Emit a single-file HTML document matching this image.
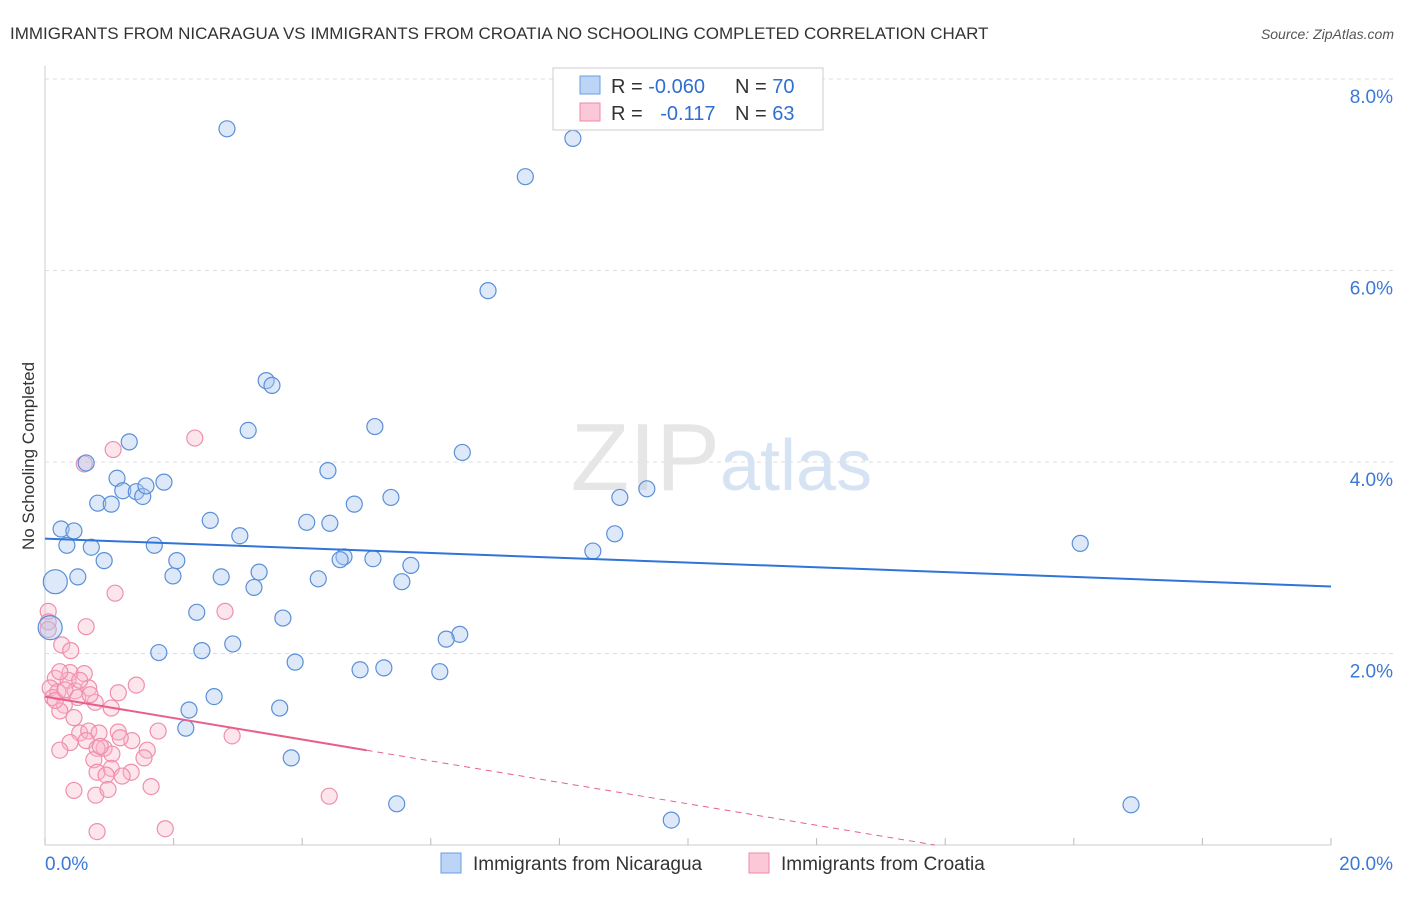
<!DOCTYPE html>
<html><head><meta charset="utf-8"><style>
body{margin:0;background:#fff;font-family:"Liberation Sans",sans-serif}
svg text{font-family:"Liberation Sans",sans-serif}
</style></head><body>
<svg width="1406" height="892">
<text x="10" y="39" font-size="17" fill="#333">IMMIGRANTS FROM NICARAGUA VS IMMIGRANTS FROM CROATIA NO SCHOOLING COMPLETED CORRELATION CHART</text>
<text x="1394" y="39" font-size="14" fill="#555" font-style="italic" text-anchor="end">Source: ZipAtlas.com</text>
<text x="34" y="456" font-size="17" fill="#333" transform="rotate(-90 34 456)" text-anchor="middle">No Schooling Completed</text>
<g id="grid"></g>
<text x="720" y="490" font-size="96" fill="#e6e6e6" text-anchor="end" font-family="Liberation Serif">ZIP</text>
<text x="720" y="490" font-size="72" fill="#d6e3f3">atlas</text>
<g id="marks"></g>
<g>
<rect x="553" y="68" width="270" height="62" fill="#fff" stroke="#ccc"/>
<rect x="580" y="76" width="20" height="18" fill="#bcd4f5" stroke="#6a9be0"/>
<rect x="580" y="103" width="20" height="18" fill="#fbc8d8" stroke="#ee8aa8"/>
<text x="611" y="93" font-size="20" fill="#333">R = <tspan fill="#2f6fd0">-0.060</tspan></text>
<text x="735" y="93" font-size="20" fill="#333">N = <tspan fill="#2f6fd0">70</tspan></text>
<text x="611" y="120" font-size="20" fill="#333">R =  <tspan fill="#2f6fd0" dx="12">-0.117</tspan></text>
<text x="735" y="120" font-size="20" fill="#333">N = <tspan fill="#2f6fd0">63</tspan></text>
</g>
<g>
<rect x="441" y="853" width="20" height="20" fill="#bcd4f5" stroke="#6a9be0"/>
<text x="473" y="870" font-size="19" fill="#333">Immigrants from Nicaragua</text>
<rect x="749" y="853" width="20" height="20" fill="#fbc8d8" stroke="#ee8aa8"/>
<text x="781" y="870" font-size="19" fill="#333">Immigrants from Croatia</text>
</g>
</svg>
<script>
const yTicks=[2,4,6,8];
const yTickLabels=["2.0%","4.0%","6.0%","8.0%"];
const xTickLabels=["0.0%","20.0%"];
const nicX=[(227),573,525,488,266,272,248,375,129,462,86,328,117,164,123,136,143,146,98,111,354,391,620,647,210,307,330,61,74,240,67,91,154,615,593,1080,344,340,373,104,177,411,259,221,173,78,55,318,402,254,197,283,50,460,446,233,159,202,295,360,384,440,214,189,280,186,291,397,1131,671].map(p=>+((p-45)/1286*20).toFixed(2));
const nicY=[129,138,177,291,381,385,430,427,442,452,463,471,478,482,491,492,496,486,503,504,504,497,497,489,520,522,523,529,531,536,545,547,545,534,551,543,557,560,559,561,561,565,572,577,576,577,582,579,582,587,612,618,628,634,639,644,653,651,662,670,668,672,697,710,708,728,758,804,805,820].map(p=>+((845-p)/95.75).toFixed(2));
const croX=[195,113,84,115,225,48,48,86,62,71,70,84,55,68,50,58,75,89,136,118,53,95,78,64,60,111,74,80,89,99,118,158,232,70,86,104,132,60,97,147,112,94,144,111,97,131,122,106,74,96,108,151,329,97,165,55,65,100,120,48,80,90,60].map(p=>+((p-45)/1286*20).toFixed(2));
const croY=[438,450,464,593,611,611,622,627,645,651,673,674,678,680,688,692,691,688,685,693,698,702,698,705,711,708,718,733,731,733,732,731,736,743,741,748,741,750,748,750,754,760,758,768,772,772,776,775,790,795,789,787,796,832,829,700,690,746,738,630,680,695,672].map(p=>+((845-p)/95.75).toFixed(2));
const nicTrend=[3.2,2.7];
const croTrend=[1.55,0.99];
const croTrendEnd=5;
const X=v=>45+v/20*1286, Y=v=>845-v*95.75;
const NS="http://www.w3.org/2000/svg";
function mk(t,a,p){const e=document.createElementNS(NS,t);for(const k in a)e.setAttribute(k,a[k]);p.appendChild(e);return e;}
const g=document.getElementById('grid'),m=document.getElementById('marks');
mk('line',{x1:45,y1:66,x2:45,y2:845,stroke:'#ccc'},g);
mk('line',{x1:45,y1:845,x2:1331,y2:845,stroke:'#ccc'},g);
for(let i=0;i<=10;i++){const l=mk('line',{x1:X(i*2),y1:845,x2:X(i*2),y2:838,stroke:'#bbb'},g);}
yTicks.forEach((v,i)=>{
 const l=mk('line',{x1:45,y1:Y(v),x2:1393,y2:Y(v),stroke:'#ddd','stroke-dasharray':'4,4'},g);
 
 
 const t=mk('text',{x:1393,y:Y(v)+24,'font-size':19,fill:'#3b78d8','text-anchor':'end'},g);t.textContent=yTickLabels[i];
 
 
});
[[0,'start',45],[20,'end',1393]].forEach(([v,a,x],i)=>{const t=mk('text',{x:x,y:870,'font-size':19,fill:'#3b78d8','text-anchor':a},g);t.textContent=xTickLabels[i];
 
 });
croX.forEach((x,i)=>{const c=mk('circle',{cx:X(x),cy:Y(croY[i]),r:8,fill:'rgba(248,180,200,0.35)',stroke:'#ef8fae','stroke-width':1.2},m);
 
 });
nicX.forEach((x,i)=>{const big=(i==46||i==52);const c=mk('circle',{cx:X(x),cy:Y(nicY[i]),r:big?12:8,fill:'rgba(170,200,240,0.4)',stroke:'#5b8fd8','stroke-width':1.2},m);
 
 });
let l=mk('line',{x1:X(0),y1:Y(nicTrend[0]),x2:X(20),y2:Y(nicTrend[1]),stroke:'#2f74d8','stroke-width':2},m);


l=mk('line',{x1:X(0),y1:Y(croTrend[0]),x2:X(croTrendEnd),y2:Y(croTrend[1]),stroke:'#e8608a','stroke-width':2},m);


const slope=(croTrend[1]-croTrend[0])/croTrendEnd, xz=-croTrend[0]/slope;
l=mk('line',{x1:X(croTrendEnd),y1:Y(croTrend[1]),x2:X(xz),y2:Y(0),stroke:'#e8608a','stroke-width':1,'stroke-dasharray':'6,5'},m);


</script>
</body></html>
